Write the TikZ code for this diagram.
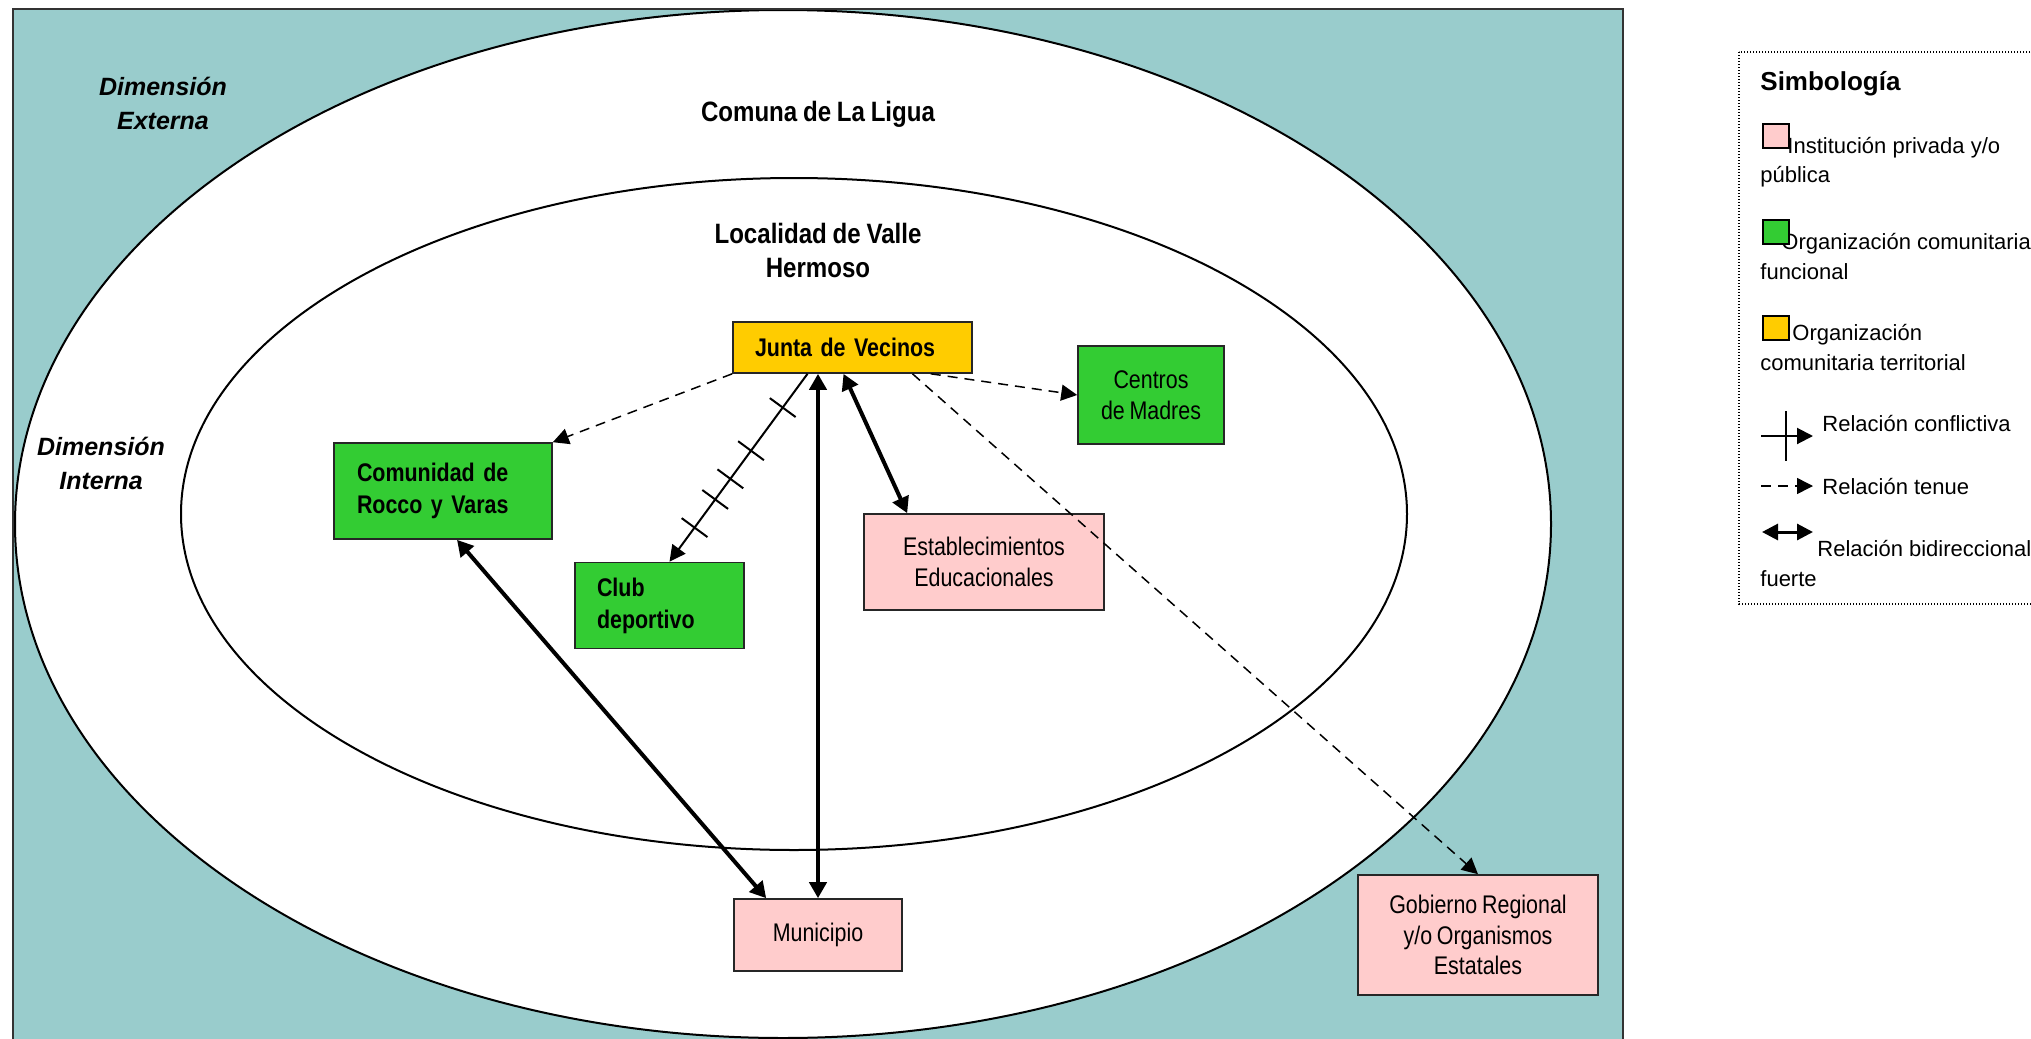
\documentclass[tikz,border=0pt]{standalone}
\usepackage{fontspec}
\setmainfont{Liberation Sans}
\newfontfamily\cajafont{Liberation Sans}[FakeStretch=0.84, WordSpace=0.8]
\newfontfamily\titfont{Liberation Sans}[FakeStretch=0.86, WordSpace=0.86]
\usetikzlibrary{arrows.meta,decorations.markings}

\definecolor{fondo}{RGB}{153,204,204}
\definecolor{rosa}{RGB}{255,204,204}
\definecolor{verde}{RGB}{51,204,51}
\definecolor{amarillo}{RGB}{255,204,0}

\tikzset{
  elipse/.style={draw=black, fill=white, line width=1pt},
  marco/.style={draw=black!80, line width=1pt},
  caja/.style={draw=black!85, line width=0.8pt, inner sep=0pt, align=center,
    font=\cajafont\fontsize{12.75pt}{15.25pt}\selectfont},
  cajaizq/.style={caja, align=left,
    font=\cajafont\bfseries\fontsize{12.75pt}{16pt}\selectfont},
  titulo/.style={inner sep=0pt, align=center,
    font=\titfont\bfseries\fontsize{14pt}{17pt}\selectfont},
  dimension/.style={inner sep=0pt, align=center,
    font=\bfseries\itshape\fontsize{12.5pt}{17pt}\selectfont},
  tenue/.style={-{Triangle[length=8pt,width=8pt]}, dash pattern=on 5pt off 3.5pt, line width=0.75pt},
  fuerte/.style={{Triangle[length=8pt,width=8.5pt]}-{Triangle[length=8pt,width=8.5pt]}, line width=2pt},
  conflicto/.style={-{Triangle[length=8pt,width=8pt]}, line width=1pt,
    postaction={decorate}, decoration={markings,
      mark=at position 0.18 with {\draw[-] (0,-8pt) -- (0,8pt);},
      mark=at position 0.41 with {\draw[-] (0,-8pt) -- (0,8pt);},
      mark=at position 0.56 with {\draw[-] (0,-8pt) -- (0,8pt);},
      mark=at position 0.67 with {\draw[-] (0,-8pt) -- (0,8pt);},
      mark=at position 0.82 with {\draw[-] (0,-8pt) -- (0,8pt);}}},
  leyenda/.style={draw=black, line width=0.8pt, dash pattern=on 0.7pt off 0.8pt},
  muestra/.style={draw=black, line width=0.8pt, minimum width=13pt, minimum height=12pt, inner sep=0pt},
  etiqueta/.style={anchor=base west, inner sep=0pt, font=\fontsize{11pt}{13pt}\selectfont}
}

\begin{document}
\begin{tikzpicture}[x=0.5pt, y=-0.5pt]
\useasboundingbox (0,0) rectangle (2031,1039);

% fondo, comuna y localidad
\fill[fondo] (13,9) rectangle (1623,1060);
\draw[elipse] (783,524) ellipse [x radius=384pt, y radius=257pt];
\draw[elipse] (794,514) ellipse [x radius=306.5pt, y radius=168pt];
\draw[marco] (13,1060) -- (13,9) -- (1623,9) -- (1623,1060);

\node[titulo, anchor=base] (comuna) at (818,121) {Comuna de La Ligua};
\node[titulo] (localidad) at (818,250) {Localidad de Valle\\Hermoso};
\node[dimension] (externa) at (163,103) {Dimensión\\Externa};
\node[dimension] (interna) at (101,463) {Dimensión\\Interna};

% actores
\node[cajaizq, fill=amarillo, text width=97.5pt, inner xsep=11pt, minimum height=25.5pt] (junta) at (852.5,347.5) {Junta de Vecinos};
\node[caja, fill=verde, minimum width=73pt, minimum height=49pt] (centros) at (1151,395) {Centros\\de Madres};
\node[caja, fill=rosa, minimum width=120pt, minimum height=48pt] (estab) at (984,562) {Establecimientos\\Educacionales};
\node[cajaizq, fill=verde, text width=86pt, inner xsep=11.5pt, minimum height=48pt] (comunidad) at (443,491) {Comunidad de\\Rocco y Varas};
\node[cajaizq, fill=verde, text width=62.5pt, inner xsep=11pt, minimum height=43pt] (club) at (659.5,605.5) {Club\\deportivo};
\node[caja, fill=rosa, minimum width=84pt, minimum height=36pt] (muni) at (818,935) {Municipio};
\node[caja, fill=rosa, minimum width=120pt, minimum height=60pt] (gob) at (1478,935) {Gobierno Regional\\y/o Organismos\\Estatales};

% relaciones
\draw[tenue] (junta.south west) -- (comunidad.north east);
\draw[conflicto] ([xshift=-22.5pt]junta.south) -- ([xshift=5pt]club.north);
\draw[fuerte] (junta.south -| muni.north) -- (muni.north);
\draw[fuerte] ([xshift=-4.5pt]junta.south) -- ([xshift=22pt]estab.north west);
\draw[tenue] ([xshift=-21pt]junta.south east) -- (centros.west);
\draw[tenue] ([xshift=30pt]junta.south) -- (gob.north);
\draw[fuerte] ([xshift=7pt]comunidad.south) -- ([xshift=16.5pt]muni.north west);

% simbologia
\draw[leyenda] (1739,52) rectangle (2045,604);
\node[anchor=base west, inner sep=0pt, font=\bfseries\fontsize{13pt}{15pt}\selectfont] (simb) at (1760,90) {Simbología};
\node[etiqueta] (t1a) at (1787,153) {Institución privada y/o};
\node[etiqueta] (t1b) at (1760,182) {pública};
\node[muestra, fill=rosa] (m1) at (1776,136) {};
\node[etiqueta] (t2a) at (1781,249) {Organización comunitaria};
\node[etiqueta] (t2b) at (1760,279) {funcional};
\node[muestra, fill=verde] (m2) at (1776,232) {};
\node[etiqueta] (t3a) at (1792,340) {Organización};
\node[etiqueta] (t3b) at (1760,370) {comunitaria territorial};
\node[muestra, fill=amarillo] (m3) at (1776,328) {};

\coordinate (c1) at (1761,436);
\coordinate (c2) at (1813,436);
\coordinate (c3) at (1786,411);
\coordinate (c4) at (1786,461);
\draw[-{Triangle[length=8pt,width=8pt]}, line width=1pt] (c1) -- (c2);
\draw[line width=1pt] (c3) -- (c4);
\node[etiqueta] (t4) at (1822,431) {Relación conflictiva};

\coordinate (d1) at (1761,486);
\coordinate (d2) at (1813,486);
\draw[tenue] (d1) -- (d2);
\node[etiqueta] (t5) at (1822,494) {Relación tenue};

\coordinate (e1) at (1762,532);
\coordinate (e2) at (1813,532);
\draw[{Triangle[length=8pt,width=8pt]}-{Triangle[length=8pt,width=8pt]}, line width=1.5pt] (e1) -- (e2);
\node[etiqueta] (t6a) at (1817,556) {Relación bidireccional};
\node[etiqueta] (t6b) at (1760,586) {fuerte};
\end{tikzpicture}
\end{document}
